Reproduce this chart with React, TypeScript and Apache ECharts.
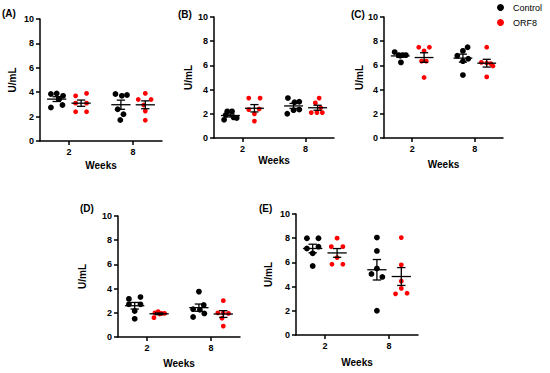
import { useEffect, useRef } from "react";
import * as echarts from "echarts";

const panelLabels = ["(A)", "(B)", "(C)", "(D)", "(E)"];
const weekLabels = ["2", "8"];
const seriesNames = ["Control", "ORF8"];
const yAxisName = "U/mL";
const xAxisName = "Weeks";

// Panel A: [week 2, week 8]
const aControl = [[3.85, 3.9, 3.7, 3.45, 2.75, 2.95], [3.85, 3.7, 3.77, 2.6, 2.2, 1.72]];
const aControlJit = [[-0.18, 0.0, 0.2, 0.08, -0.18, 0.18], [-0.17, 0.03, 0.19, -0.1, 0.08, -0.02]];
const aOrf8 = [[3.7, 3.9, 3.1, 3.1, 2.4, 2.4], [3.9, 3.4, 3.4, 2.95, 2.45, 1.7]];
const aOrf8Jit = [[-0.17, 0.17, -0.17, 0.17, -0.17, 0.17], [0.0, -0.22, 0.18, -0.05, 0.0, 0.0]];

// Panel B
const bControl = [[2.2, 2.2, 1.9, 1.7, 1.65, 1.5], [3.3, 2.95, 3.0, 2.0, 2.3, 2.35]];
const bControlJit = [[-0.1, 0.05, -0.15, 0.1, 0.2, -0.2], [-0.18, 0.03, 0.18, -0.2, 0.0, 0.18]];
const bOrf8 = [[3.3, 3.3, 2.35, 2.4, 2.0, 1.4], [3.3, 2.9, 2.5, 2.1, 2.1, 2.1]];
const bOrf8Jit = [[-0.18, 0.18, -0.18, 0.15, 0.0, 0.0], [0.05, -0.07, 0.1, -0.2, -0.02, 0.15]];

// Panel C
const cControl = [[7.1, 6.85, 6.85, 6.85, 6.8, 6.25], [7.5, 7.2, 6.8, 6.55, 6.35, 5.2]];
const cControlJit = [[-0.18, -0.05, 0.08, 0.18, 0.0, 0.02], [0.15, 0.0, -0.18, 0.17, 0.0, 0.0]];
const cOrf8 = [[7.5, 7.5, 7.2, 6.35, 6.35, 5.0], [7.5, 6.25, 6.2, 6.15, 5.95, 5.05]];
const cOrf8Jit = [[-0.17, 0.17, 0.0, -0.08, 0.07, 0.0], [0.0, -0.17, 0.0, 0.13, 0.2, 0.0]];

// Panel D
const dControl = [[3.15, 3.3, 2.7, 2.7, 2.15, 1.5], [3.75, 2.65, 2.3, 2.25, 1.95, 1.65]];
const dControlJit = [[-0.18, 0.18, -0.18, 0.18, 0.0, 0.0], [0.0, 0.15, -0.18, 0.03, 0.17, -0.18]];
const dOrf8 = [[2.0, 2.1, 1.95, 1.95, 1.6, 1.9], [3.0, 2.0, 2.0, 1.95, 1.55, 0.9]];
const dOrf8Jit = [[-0.13, -0.03, 0.07, 0.17, -0.16, 0.02], [0.0, -0.17, 0.0, 0.16, -0.04, 0.0]];

// Panel E
const eControl = [[8.0, 8.0, 7.15, 7.3, 6.75, 5.7], [8.05, 6.95, 5.5, 5.05, 4.8, 2.0]];
const eControlJit = [[-0.18, 0.18, -0.18, 0.18, 0.0, 0.0], [0.0, 0.0, 0.0, -0.17, 0.17, 0.0]];
const eOrf8 = [[8.0, 7.3, 7.3, 6.4, 5.85, 5.85], [8.05, 5.8, 4.45, 3.85, 3.4, 3.45]];
const eOrf8Jit = [[0.0, -0.18, 0.18, 0.0, -0.16, 0.18], [0.0, 0.0, 0.0, 0.0, -0.18, 0.18]];

const panels = [
  [aControl, aControlJit, aOrf8, aOrf8Jit],
  [bControl, bControlJit, bOrf8, bOrf8Jit],
  [cControl, cControlJit, cOrf8, cOrf8Jit],
  [dControl, dControlJit, dOrf8, dOrf8Jit],
  [eControl, eControlJit, eOrf8, eOrf8Jit],
];

const groupPos = [1, 3];
const sideOffset = [-0.38, 0.38];

const grids = [
  { left: 40, top: 19, width: 122, height: 122 },
  { left: 214, top: 17, width: 120, height: 121 },
  { left: 384, top: 17, width: 119, height: 121 },
  { left: 118, top: 216, width: 122, height: 121 },
  { left: 296, top: 214, width: 122, height: 121 },
];
const yNameGaps = [23, 21, 19, 31, 23];
const xNameGaps = [19, 17, 21, 21, 22];
const labelPos = [
  [2, 8],
  [178, 9],
  [351, 9],
  [80, 203],
  [259, 203],
];

const FONT = "Liberation Sans, Arial, sans-serif";
const colors = ["#000000", "#ff0000"];
const symbolSizes = [5.8, 4.8];

function stats(vals: number[]) {
  const n = vals.length;
  const m = vals.reduce((a, b) => a + b, 0) / n;
  const sd = Math.sqrt(vals.reduce((a, b) => a + (b - m) * (b - m), 0) / (n - 1));
  return [m, sd / Math.sqrt(n)];
}

function buildOption() {
  const xAxis: any[] = [];
  const yAxis: any[] = [];
  const series: any[] = [];
  const graphic: any[] = [];
  panels.forEach((p, i) => {
    xAxis.push({
      gridIndex: i,
      type: "value",
      min: 0.1,
      max: 3.9,
      name: xAxisName,
      nameLocation: "middle",
      nameGap: xNameGaps[i],
      nameTextStyle: { fontFamily: FONT, fontWeight: "bold", fontSize: 10, color: "#000" },
      axisLine: { show: true, onZero: false, lineStyle: { color: "#000", width: 1.5 } },
      axisTick: { show: true, length: 4, customValues: groupPos, lineStyle: { color: "#000", width: 1.5 } },
      axisLabel: {
        customValues: groupPos,
        margin: 6,
        fontFamily: FONT,
        fontWeight: "bold",
        fontSize: 9,
        color: "#000",
        formatter: (v: number) => weekLabels[groupPos.indexOf(v)] ?? "",
      },
      splitLine: { show: false },
    });
    yAxis.push({
      gridIndex: i,
      type: "value",
      min: 0,
      max: 10,
      interval: 2,
      name: yAxisName,
      nameLocation: "middle",
      nameGap: yNameGaps[i],
      nameTextStyle: { fontFamily: FONT, fontWeight: "bold", fontSize: 10, color: "#000" },
      axisLine: { show: true, onZero: false, lineStyle: { color: "#000", width: 1.5 } },
      axisTick: { show: true, length: 4, lineStyle: { color: "#000", width: 1.5 } },
      axisLabel: { margin: 6, fontFamily: FONT, fontWeight: "bold", fontSize: 9, color: "#000" },
      splitLine: { show: false },
    });
    const statData: number[][] = [];
    [0, 1].forEach((g) => {
      const vals = p[g * 2];
      const jit = p[g * 2 + 1];
      const data: number[][] = [];
      vals.forEach((weekVals, w) => {
        weekVals.forEach((v, k) => {
          data.push([groupPos[w] + sideOffset[g] + jit[w][k], v]);
        });
        const [m, se] = stats(weekVals);
        statData.push([groupPos[w] + sideOffset[g], m, se]);
      });
      series.push({
        type: "scatter",
        name: seriesNames[g],
        xAxisIndex: i,
        yAxisIndex: i,
        symbol: "circle",
        symbolSize: symbolSizes[g],
        itemStyle: { color: colors[g], opacity: 1 },
        data,
        z: 2,
      });
    });
    series.push({
      type: "custom",
      xAxisIndex: i,
      yAxisIndex: i,
      z: 3,
      data: statData,
      renderItem: (_params: any, api: any) => {
        const x = api.value(0);
        const m = api.value(1);
        const s = api.value(2);
        const l = api.coord([x - 0.3, m]);
        const r = api.coord([x + 0.3, m]);
        const t = api.coord([x, m + s]);
        const b = api.coord([x, m - s]);
        const tl = api.coord([x - 0.13, m + s]);
        const tr = api.coord([x + 0.13, m + s]);
        const bl = api.coord([x - 0.13, m - s]);
        const br = api.coord([x + 0.13, m - s]);
        const style = { stroke: "#000", lineWidth: 1.3 };
        return {
          type: "group",
          children: [
            { type: "line", shape: { x1: l[0], y1: l[1], x2: r[0], y2: r[1] }, style },
            { type: "line", shape: { x1: t[0], y1: t[1], x2: b[0], y2: b[1] }, style },
            { type: "line", shape: { x1: tl[0], y1: tl[1], x2: tr[0], y2: tr[1] }, style },
            { type: "line", shape: { x1: bl[0], y1: bl[1], x2: br[0], y2: br[1] }, style },
          ],
        };
      },
    });
    graphic.push({
      type: "text",
      left: labelPos[i][0],
      top: labelPos[i][1],
      style: { text: panelLabels[i], fontFamily: FONT, fontWeight: "bold", fontSize: 10, fill: "#000" },
    });
  });
  return {
    animation: false,
    backgroundColor: "#ffffff",
    grid: grids.map((g) => ({ ...g, containLabel: false })),
    xAxis,
    yAxis,
    series,
    graphic,
    legend: {
      data: seriesNames,
      orient: "vertical",
      left: 497,
      top: 3,
      padding: 0,
      itemWidth: 7,
      itemHeight: 7,
      itemGap: 6,
      icon: "circle",
      itemStyle: { opacity: 1 },
      textStyle: { fontFamily: FONT, fontSize: 9, color: "#000", padding: [0, 0, 0, 4] },
    },
  };
}

export default function App() {
  const ref = useRef<HTMLDivElement>(null);
  useEffect(() => {
    if (!ref.current) return;
    const chart = echarts.init(ref.current, null, { renderer: "svg" });
    chart.setOption(buildOption() as any);
    return () => chart.dispose();
  }, []);
  return (
    <div
      ref={ref}
      style={{ position: "fixed", left: 0, top: 0, width: 550, height: 373, background: "#fff" }}
    />
  );
}
